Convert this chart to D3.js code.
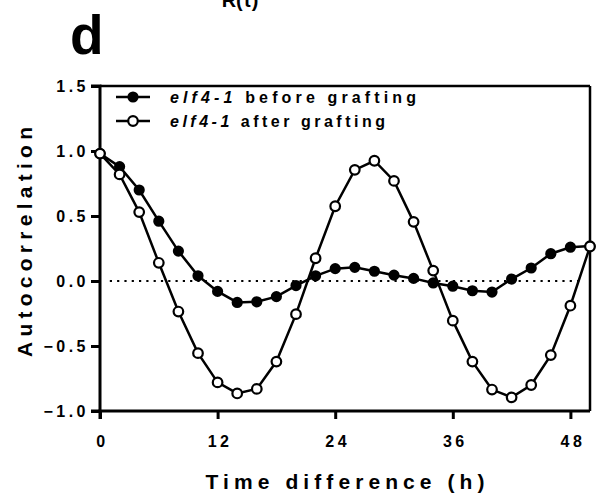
<!DOCTYPE html>
<html>
<head>
<meta charset="utf-8">
<script src="https://cdn.jsdelivr.net/npm/d3@7"></script>
<style>
  html, body { margin: 0; padding: 0; background: #fff; }
  svg { display: block; font-family: "Liberation Sans", Arial, sans-serif; }
</style>
</head>
<body>
<svg id="chart" width="596" height="498"></svg>
<script>
// ---- Data ----
const timeHours = [0, 2, 4, 6, 8, 10, 12, 14, 16, 18, 20, 22, 24, 26, 28, 30, 32, 34, 36, 38, 40, 42, 44, 46, 48, 50];
const beforeGrafting = [0.98, 0.88, 0.70, 0.46, 0.23, 0.04, -0.08, -0.165, -0.16, -0.12, -0.035, 0.04, 0.095, 0.105, 0.075, 0.045, 0.02, -0.015, -0.04, -0.075, -0.085, 0.015, 0.10, 0.21, 0.26, 0.27];
const afterGrafting = [0.98, 0.82, 0.53, 0.14, -0.235, -0.555, -0.78, -0.865, -0.83, -0.62, -0.255, 0.175, 0.575, 0.855, 0.925, 0.77, 0.455, 0.08, -0.305, -0.62, -0.835, -0.895, -0.80, -0.57, -0.19, 0.265];
const xTicks = [0, 12, 24, 36, 48];
const yTicks = [-1.0, -0.5, 0.0, 0.5, 1.0, 1.5];
const seriesNames = ["before grafting", "after grafting"];
const geneName = "elf4-1";

// ---- Layout ----
const svg = d3.select("#chart");
const pLeft = 100, pRight = 590, pTop = 86, pBottom = 411;
const x = d3.scaleLinear().domain([0, 50]).range([pLeft, pRight]);
const y = d3.scaleLinear().domain([-1, 1.5]).range([pBottom, pTop]);

// panel letter and clipped title
svg.append("text").attr("x", 70).attr("y", 54)
  .attr("font-size", 55).attr("font-weight", "bold").text("d");
svg.append("text").attr("x", 240).attr("y", 7).attr("text-anchor", "middle")
  .attr("font-size", 20).attr("font-weight", "bold").text("R(τ)");

// frame top/right
svg.append("line").attr("x1", pLeft).attr("x2", pRight).attr("y1", pTop).attr("y2", pTop)
  .attr("stroke", "#000").attr("stroke-width", 2.5);
svg.append("line").attr("x1", pRight).attr("x2", pRight).attr("y1", pTop).attr("y2", pBottom)
  .attr("stroke", "#000").attr("stroke-width", 2.5);

// zero dotted line
svg.append("line").attr("x1", x(1)).attr("x2", x(49)).attr("y1", y(0)).attr("y2", y(0))
  .attr("stroke", "#000").attr("stroke-width", 2.2)
  .attr("stroke-dasharray", "2.2,5.1");

// axes
const yAxis = svg.append("g").attr("transform", `translate(${pLeft},0)`)
  .call(d3.axisLeft(y).tickValues(yTicks).tickFormat(d3.format(".1f")).tickSize(9).tickPadding(5));
const xAxis = svg.append("g").attr("transform", `translate(0,${pBottom})`)
  .call(d3.axisBottom(x).tickValues(xTicks).tickFormat(d3.format("d")).tickSize(8).tickPadding(17));
[yAxis, xAxis].forEach(g => {
  g.select(".domain").attr("stroke-width", 3).attr("stroke", "#000");
  g.selectAll(".tick line").attr("stroke-width", 3).attr("stroke", "#000");
  g.selectAll(".tick text").attr("font-size", 16).attr("font-weight", "bold")
    .attr("fill", "#000").attr("font-family", "'Liberation Sans', Arial, sans-serif")
    .style("letter-spacing", "3.5px");
});
yAxis.select(".domain").attr("d", `M-9,${pBottom}H0V${pTop}H-9`);
xAxis.select(".domain").attr("d", `M${pLeft},8V0H${pRight}`);
yAxis.selectAll(".tick text").attr("dx", 3);
xAxis.selectAll(".tick text").attr("dx", 2);

// axis titles
svg.append("text").attr("x", 345).attr("y", 489).attr("text-anchor", "middle")
  .attr("font-size", 21).attr("font-weight", "bold").attr("fill", "#000")
  .attr("textLength", 279).attr("lengthAdjust", "spacing").text("Time difference (h)");
svg.append("text").attr("transform", "translate(32,242) rotate(-90)").attr("text-anchor", "middle")
  .attr("font-size", 21).attr("font-weight", "bold").attr("fill", "#000")
  .attr("textLength", 230).attr("lengthAdjust", "spacing").text("Autocorrelation");

// series
const line = d3.line().x((d, i) => x(timeHours[i])).y(d => y(d));
const series = [
  { values: beforeGrafting, fill: "#000" },
  { values: afterGrafting, fill: "#fff" }
];
series.forEach(s => {
  svg.append("path").datum(s.values).attr("d", line)
    .attr("fill", "none").attr("stroke", "#000").attr("stroke-width", 2.5);
});
series.forEach(s => {
  svg.append("g").selectAll("circle").data(s.values).join("circle")
    .attr("cx", (d, i) => x(timeHours[i])).attr("cy", d => y(d))
    .attr("r", s.fill === "#000" ? 4.5 : 4.8)
    .attr("fill", s.fill).attr("stroke", "#000").attr("stroke-width", 2.2);
});

// legend
const legendRows = [
  { name: seriesNames[0], fill: "#000", yy: 97, len: 246 },
  { name: seriesNames[1], fill: "#fff", yy: 121, len: 215 }
];
legendRows.forEach(r => {
  svg.append("line").attr("x1", 116).attr("x2", 150).attr("y1", r.yy).attr("y2", r.yy)
    .attr("stroke", "#000").attr("stroke-width", 2.5);
  svg.append("circle").attr("cx", 133).attr("cy", r.yy).attr("r", r.fill === "#000" ? 4.5 : 4.8)
    .attr("fill", r.fill).attr("stroke", "#000").attr("stroke-width", 2.2);
  const t = svg.append("text").attr("x", 170).attr("y", r.yy + 5.5)
    .attr("font-size", 16).attr("font-weight", "bold").attr("fill", "#000")
    .attr("textLength", r.len).attr("lengthAdjust", "spacing");
  t.append("tspan").attr("font-style", "italic").text(geneName);
  t.append("tspan").text(" " + r.name);
});
</script>
</body>
</html>
